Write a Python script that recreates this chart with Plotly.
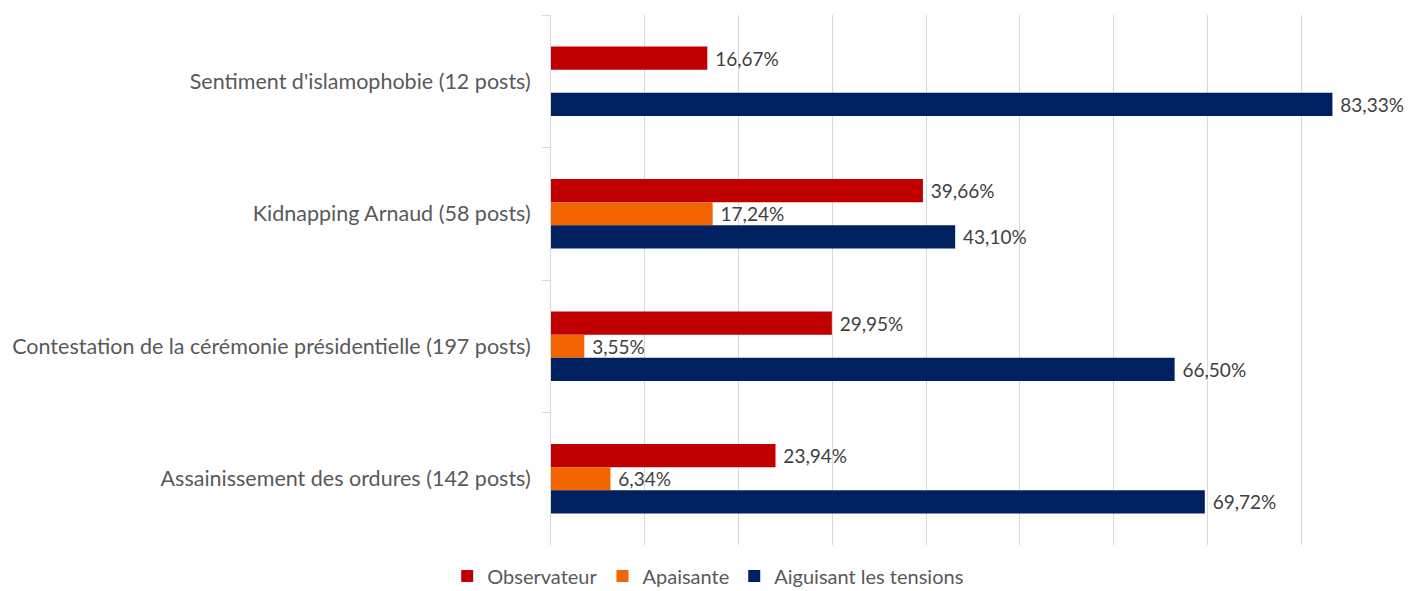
import plotly.graph_objects as go

categories = [
    "Sentiment d'islamophobie (12 posts)",
    "Kidnapping Arnaud (58 posts)",
    "Contestation de la cérémonie présidentielle (197 posts)",
    "Assainissement des ordures (142 posts)",
]
series_names = ["Observateur", "Apaisante", "Aiguisant les tensions"]
observateur = [16.67, 39.66, 29.95, 23.94]
apaisante = [0.0, 17.24, 3.55, 6.34]
aiguisant = [83.33, 43.10, 66.50, 69.72]
colors = ["#C00000", "#F26500", "#002060"]

FONT = "Lato"

def labels(vals):
    return [(" " + f"{v:.2f}".replace(".", ",") + "%") if v > 0 else "" for v in vals]

fig = go.Figure()
for name, vals, col in zip(series_names, [observateur, apaisante, aiguisant], colors):
    fig.add_trace(go.Bar(
        y=categories, x=vals, name=name, orientation="h",
        marker=dict(color=col, line=dict(width=0)),
        text=labels(vals), textposition="outside", cliponaxis=False,
        textfont=dict(family=FONT, size=19, color="#404040"),
        hoverinfo="skip",
    ))

fig.update_layout(
    width=1408, height=591,
    margin=dict(l=551, r=13, t=15, b=46),
    paper_bgcolor="white", plot_bgcolor="white",
    barmode="group", bargap=0.477, bargroupgap=0,
    font=dict(family=FONT, color="#595959"),
    showlegend=True,
    legend=dict(orientation="h", xref="container", yref="container",
                x=0.503, xanchor="center", y=15 / 591, yanchor="middle",
                font=dict(family=FONT, size=20, color="#595959"),
                itemwidth=30, traceorder="normal"),
)
fig.update_xaxes(range=[0, 90], dtick=10, showticklabels=False, showgrid=True,
                 gridcolor="#D9D9D9", gridwidth=1, zeroline=False, showline=False)
fig.update_yaxes(autorange="reversed", tickson="boundaries", ticks="outside", ticklen=8,
                 tickcolor="#D9D9D9", showline=True, linecolor="#D9D9D9", linewidth=1,
                 tickfont=dict(family=FONT, size=21.5, color="#595959"), ticklabelstandoff=15,
                 showgrid=False)

fig.write_html("out.html", config={"displayModeBar": False},
               post_script="document.body.style.margin='0';document.body.style.overflow='hidden';")
